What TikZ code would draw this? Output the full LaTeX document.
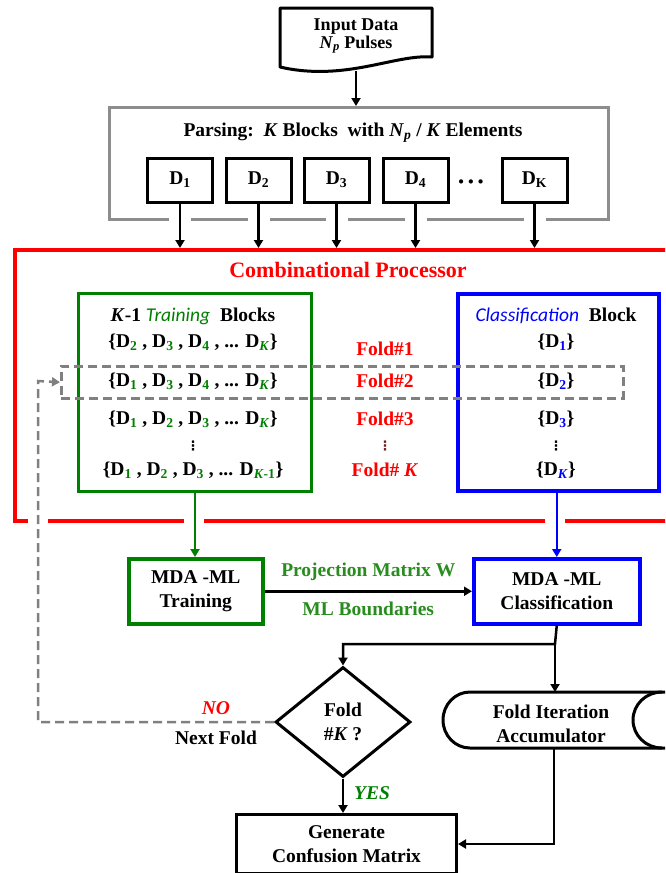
\documentclass[tikz,border=0pt]{standalone}
\usepackage{fontspec}
\setmainfont{Liberation Serif}
\newfontfamily\calfont{Carlito}
\newfontfamily\symfont{DejaVu Sans}
\usetikzlibrary{arrows.meta,shapes.geometric,calc}
\definecolor{pgreen}{RGB}{0,128,0}
\definecolor{lgreen}{RGB}{40,140,30}
\definecolor{pblue}{RGB}{0,0,255}
\definecolor{pred}{RGB}{255,0,0}
\definecolor{pgray}{RGB}{128,128,128}
\definecolor{dotred}{RGB}{110,30,30}
\newcommand\Np{\textit{N}\textsubscript{\textit{p}}}
\newcommand\Dg[1]{D\textsubscript{\textcolor{pgreen}{#1}}}
\newcommand\Db[1]{D\textsubscript{\textcolor{pblue}{#1}}}
\newcommand\vd{{\symfont\bfseries\fontsize{13}{13}\selectfont ⋮}}
\begin{document}
\begin{tikzpicture}[x=1pt,y=-1pt,
  every node/.style={font=\bfseries\fontsize{19.5}{24}\selectfont, align=center, inner sep=0pt},
  tip/.style={-{Triangle[length=8pt,width=9pt]}},
  conn/.style={line width=2.5pt, tip},
  dblock/.style={draw, line width=3pt, minimum width=65pt, minimum height=44pt},
  dashline/.style={draw=pgray, line width=2.5pt, dash pattern=on 9pt off 5pt},
  flow/.style={draw, line width=3pt, anchor=north west},
  foldlbl/.style={text=pred},
]
\useasboundingbox (0,0) rectangle (665,873);
\clip (0,0) rectangle (665,873);
\fill[white] (0,0) rectangle (665,873);

% input document
\draw[line width=3pt, line join=round] (280,8) -- (432,8) -- (432,57)
  .. controls (395,54) and (345,82) .. (280,67) -- cycle;
\node[font=\bfseries\fontsize{18}{18}\selectfont] (input) at (356,36) {Input Data\\\Np{} Pulses};
\coordinate (inbot) at (356,71);

% parsing stage
\node[draw=pgray!90, line width=3pt, minimum width=499pt, minimum height=112pt, anchor=north west] (parse) at (108,106) {};
\node (parsetxt) at (353,133) {Parsing:\ \ \textit{K} Blocks\ \ with \Np{} / \textit{K} Elements};
\node[dblock] (d1) at (180,180) {D\textsubscript{1}};
\node[dblock] (d2) at (258.5,180) {D\textsubscript{2}};
\node[dblock] (d3) at (336.5,180) {D\textsubscript{3}};
\node[dblock] (d4) at (415.5,180) {D\textsubscript{4}};
\node[font=\bfseries\fontsize{26}{26}\selectfont] (ddots) at (471,185) {·\kern1pt·\kern1pt·};
\node[dblock] (dk) at (534.5,180) {D\textsubscript{K}};
\draw[conn] (inbot) -- (inbot |- parse.north);

% combinational processor
\node[draw=pred, line width=3.5pt, minimum width=700pt, minimum height=271pt, anchor=north west] (proc) at (13,248) {};
\foreach \d in {d1,d2,d3,d4,dk} {
  \fill[white] ($(\d.south |- parse.south)+(-11,-4)$) rectangle +(22,8);
  \draw[conn] (\d.south) -- (\d.south |- proc.north);
}
\node[text=pred, font=\bfseries\fontsize{22}{24}\selectfont] (proctitle) at (348,270) {Combinational Processor};

\node[draw=pgreen, line width=3pt, minimum width=233pt, minimum height=198pt, anchor=north west] (train) at (77,292) {};
\node[draw=pblue, line width=3.5pt, minimum width=201pt, minimum height=197pt, anchor=north west] (cls) at (456,292) {};

\node (t0) at (193,316) {\textit{K}-1 \textcolor{pgreen}{\calfont\mdseries\itshape Training}\ \ Blocks};
\node (t1) at (193,342) {\{\Dg{2} , \Dg{3} , \Dg{4} , ... D\textsubscript{\textcolor{pgreen}{\textit{K}}}\}};
\node (t2) at (193,381) {\{\Dg{1} , \Dg{3} , \Dg{4} , ... D\textsubscript{\textcolor{pgreen}{\textit{K}}}\}};
\node (t3) at (193,419) {\{\Dg{1} , \Dg{2} , \Dg{3} , ... D\textsubscript{\textcolor{pgreen}{\textit{K}}}\}};
\node (t4) at (193,446) {\vd};
\node (t5) at (193,470) {\{\Dg{1} , \Dg{2} , \Dg{3} , ... D\textsubscript{\textcolor{pgreen}{\textit{K}-1}}\}};

\node[foldlbl] (f1) at (385,349) {Fold\#1};
\node[foldlbl] (f2) at (385,381) {Fold\#2};
\node[foldlbl] (f3) at (385,419) {Fold\#3};
\node[text=dotred] (f4) at (385,446) {\vd};
\node[foldlbl] (f5) at (385,470) {Fold\# \textit{K}};

\node (c0) at (556,316) {\textcolor{pblue}{\calfont\mdseries\itshape Classification}\ \ Block};
\node (c1) at (556,342) {\{\Db{1}\}};
\node (c2) at (556,381) {\{\Db{2}\}};
\node (c3) at (556,419) {\{\Db{3}\}};
\node (c4) at (556,446) {\vd};
\node (c5) at (556,470) {\{D\textsubscript{\textcolor{pblue}{\textit{K}}}\}};

% fold currently selected
\node[dashline, minimum width=562pt, minimum height=32pt, anchor=north west] (sel) at (60,365) {};

% MDA-ML stages
\node[flow, draw=pgreen, line width=3.5pt, minimum width=134pt, minimum height=65pt] (mdat) at (127,557) {MDA -ML\\Training};
\node[flow, draw=pblue, line width=3.5pt, minimum width=166pt, minimum height=65pt] (mdac) at (472,557) {MDA -ML\\Classification};

\foreach \g in {38,193.5,555} {
  \fill[white] ($(\g,0 |- proc.south)+(-10,-4)$) rectangle +(20,8);
}
\draw[line width=2pt, pgreen, tip] (train.south) -- (train.south |- mdat.north);
\draw[line width=2pt, pblue, tip] (mdac.north |- cls.south) -- (mdac.north);
\draw[conn] (mdat.east) -- node[above=9pt, text=lgreen] (pm) {Projection Matrix W}
  node[below=9pt, text=lgreen] (mlb) {ML Boundaries} (mdac.west);

% decision and accumulation
\node[diamond, draw, line width=3pt, minimum width=135pt, minimum height=110pt] (dec) at (343,722) {Fold\\\#\textit{K} ?};
\node[minimum width=222pt, minimum height=56pt, anchor=north west] (acc) at (443,692) {};
\node (acctxt) at (551,724) {Fold Iteration\\Accumulator};
\draw[line width=3pt] (700,692) -- (470,692) arc[start angle=90, end angle=270, x radius=27pt, y radius=28pt] -- (700,748);
\draw[line width=3pt] (662,692) arc[start angle=90, end angle=270, x radius=29pt, y radius=28pt];
\node[flow, minimum width=220pt, minimum height=59pt] (gen) at (235,813) {Generate\\Confusion Matrix};

\coordinate (split) at (555,644);
\draw[conn] (mdac.south) -- (split) -| (dec.north);
\draw[conn] (split) -- (split |- acc.north);
\draw[conn] (acc.south) |- (gen.east);
\draw[conn] (dec.south) -- (dec.south |- gen.north);
\node[text=pgreen, font=\bfseries\itshape\fontsize{19.5}{24}\selectfont] (yes) at (372,793) {YES};

% loop back to the next fold
\coordinate (back) at (38,381);
\draw[dashline, tip] (dec.west) -| (back) -- (sel.west);
\node[text=pred, font=\bfseries\itshape\fontsize{19.5}{24}\selectfont] (no) at (216,708) {NO};
\node (nextfold) at (216,738) {Next Fold};
\end{tikzpicture}
\end{document}
